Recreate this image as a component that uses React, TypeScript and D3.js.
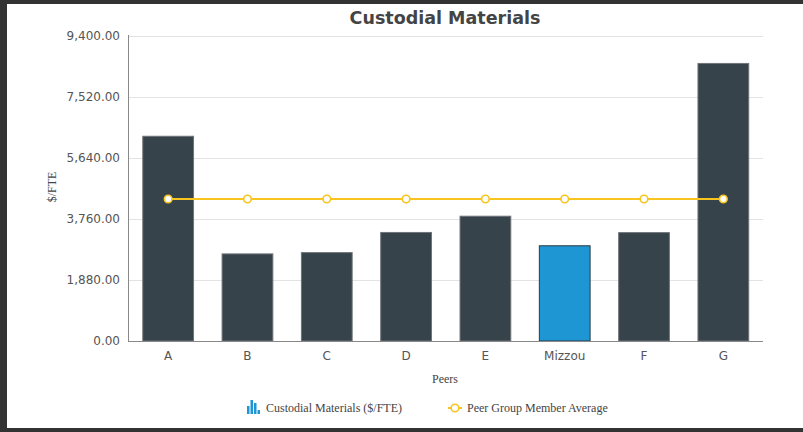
import React from "react";
import * as d3 from "d3";

const categories = ["A", "B", "C", "D", "E", "Mizzou", "F", "G"];
const materialValues = [6300, 2680, 2720, 3340, 3840, 2930, 3335, 8540];
const peerAverage = [4370, 4370, 4370, 4370, 4370, 4370, 4370, 4370];
const yTicks = [0, 1880, 3760, 5640, 7520, 9400];
const highlight = "Mizzou";

const W = 803;
const H = 432;

export default function App() {
  const x = d3.scaleBand<string>().domain(categories).range([128.5, 763]).paddingInner(0.36).paddingOuter(0.18);
  const y = d3.scaleLinear().domain([0, 9400]).range([341, 35.5]);
  const fmt = d3.format(",.2f");
  const line = d3
    .line<number>()
    .x((_, i) => (x(categories[i]) as number) + x.bandwidth() / 2)
    .y((d) => y(d));
  const sans = "'DejaVu Sans', Verdana, sans-serif";
  const serif = "'Liberation Serif', 'Times New Roman', serif";
  const gold = "#f7c51e";

  return (
    <svg width={W} height={H} style={{ position: "absolute", left: 0, top: 0 }}>
      <rect x={0} y={0} width={W} height={H} fill="#333" />
      <rect x={7} y={4} width={W - 7} height={424} fill="#fff" />
      <text x={445} y={24} textAnchor="middle" fontFamily={sans} fontWeight="bold" fontSize={17.5} fill="#444">
        Custodial Materials
      </text>
      {yTicks.map((t) => (
        <g key={t}>
          {t > 0 && <line x1={128.5} x2={763} y1={Math.round(y(t)) + 0.5} y2={Math.round(y(t)) + 0.5} stroke="#e3e3e3" />}
          <text x={120} y={y(t)} dy="0.35em" textAnchor="end" fontFamily={sans} fontSize={12} fill="#555">
            {fmt(t)}
          </text>
        </g>
      ))}
      {categories.map((c, i) => (
        <rect
          key={c}
          x={x(c)}
          y={y(materialValues[i])}
          width={x.bandwidth()}
          height={y(0) - y(materialValues[i])}
          fill={c === highlight ? "#1e96d4" : "#37434b"}
          stroke={c === highlight ? "#2b3a44" : "#6f7478"}
          strokeWidth={1}
        />
      ))}
      <line x1={128.5} x2={128.5} y1={35} y2={341.5} stroke="#888" />
      <line x1={128} x2={763} y1={341.5} y2={341.5} stroke="#888" />
      {categories.map((c) => (
        <text key={c} x={(x(c) as number) + x.bandwidth() / 2} y={359.5} textAnchor="middle" fontFamily={sans} fontSize={12} fill="#555">
          {c}
        </text>
      ))}
      <path d={line(peerAverage) || ""} fill="none" stroke={gold} strokeWidth={2} />
      {peerAverage.map((v, i) => (
        <circle key={i} cx={(x(categories[i]) as number) + x.bandwidth() / 2} cy={y(v)} r={3.8} fill="#fff" stroke={gold} strokeWidth={1.6} />
      ))}
      <text transform="translate(56,187) rotate(-90)" textAnchor="middle" fontFamily={serif} fontSize={12} fill="#444">
        $/FTE
      </text>
      <text x={445} y={383} textAnchor="middle" fontFamily={serif} fontSize={12} fill="#444">
        Peers
      </text>
      <g fill="#1e96d4">
        <rect x={247} y={406} width={2.5} height={8} />
        <rect x={250.5} y={400} width={2.5} height={14} />
        <rect x={254} y={403} width={2.5} height={11} />
        <rect x={257.5} y={410} width={2.5} height={4} />
      </g>
      <text x={266} y={412} fontFamily={serif} fontSize={12} fill="#444">
        Custodial Materials ($/FTE)
      </text>
      <line x1={448} x2={462} y1={408} y2={408} stroke={gold} strokeWidth={2} />
      <circle cx={455} cy={408} r={3.8} fill="#fff" stroke={gold} strokeWidth={1.6} />
      <text x={467} y={412} fontFamily={serif} fontSize={12} fill="#444">
        Peer Group Member Average
      </text>
    </svg>
  );
}
